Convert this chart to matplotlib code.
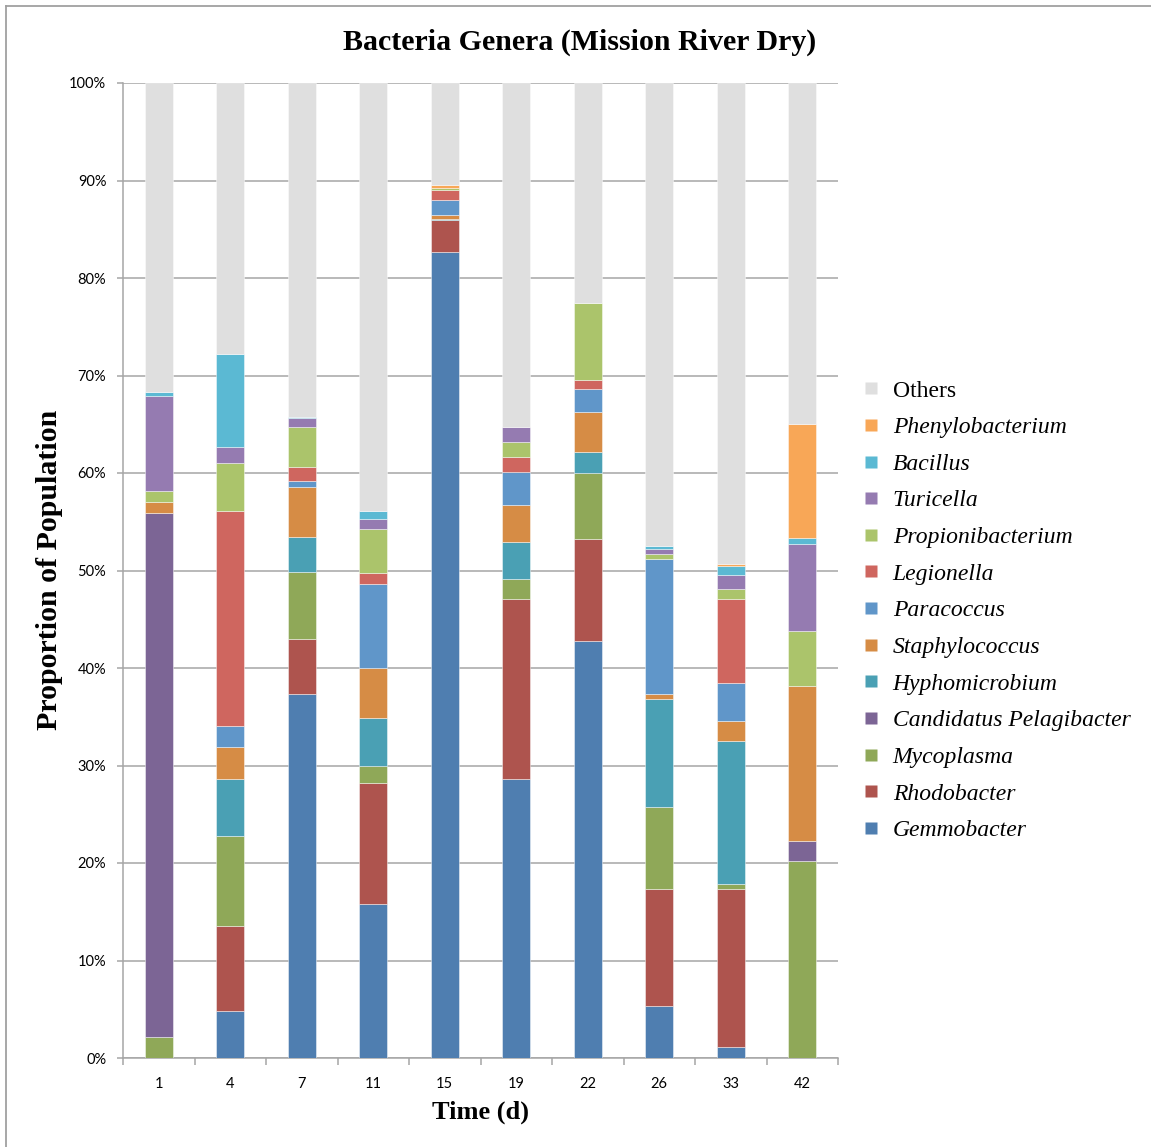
import matplotlib

matplotlib.use("Agg")
import matplotlib.pyplot as plt
import numpy as np
from matplotlib.lines import Line2D
from matplotlib.ticker import FixedLocator, PercentFormatter

DAYS = ["1", "4", "7", "11", "15", "19", "22", "26", "33", "42"]

# percent of population per genus, stacked bottom -> top
GEMMOBACTER = [0, 4.8, 37.3, 15.8, 82.7, 28.6, 42.8, 5.3, 1.1, 0]
RHODOBACTER = [0, 8.7, 5.7, 12.4, 3.2, 18.5, 10.4, 12.0, 16.2, 0]
MYCOPLASMA = [2.2, 9.3, 6.8, 1.7, 0, 2.0, 6.8, 8.4, 0.5, 20.2]
PELAGIBACTER = [53.7, 0, 0, 0, 0, 0, 0, 0, 0, 2.1]
HYPHOMICROBIUM = [0, 5.8, 3.6, 5.0, 0.2, 3.8, 2.2, 11.1, 14.7, 0]
STAPHYLOCOCCUS = [1.1, 3.3, 5.2, 5.1, 0.4, 3.8, 4.1, 0.5, 2.1, 15.9]
PARACOCCUS = [0, 2.2, 0.6, 8.6, 1.5, 3.4, 2.3, 13.9, 3.9, 0]
LEGIONELLA = [0, 22.0, 1.4, 1.1, 1.0, 1.5, 0.9, 0, 8.6, 0]
PROPIONIBACTERIUM = [1.2, 4.9, 4.1, 4.6, 0.2, 1.6, 7.9, 0.5, 1.0, 5.6]
TURICELLA = [9.7, 1.7, 0.9, 1.0, 0, 1.5, 0, 0.5, 1.4, 8.9]
BACILLUS = [0.4, 9.5, 0.1, 0.8, 0, 0, 0, 0.3, 1.0, 0.6]
PHENYLOBACTERIUM = [0, 0, 0, 0, 0.3, 0, 0, 0, 0.2, 11.7]
OTHERS = [31.7, 27.8, 34.3, 43.9, 10.5, 35.3, 22.6, 47.5, 49.3, 35.0]

SERIES = [
    ("Gemmobacter", GEMMOBACTER, "#4f7eb0"),
    ("Rhodobacter", RHODOBACTER, "#ae544e"),
    ("Mycoplasma", MYCOPLASMA, "#8fa858"),
    ("Candidatus Pelagibacter", PELAGIBACTER, "#7c6595"),
    ("Hyphomicrobium", HYPHOMICROBIUM, "#4aa0b4"),
    ("Staphylococcus", STAPHYLOCOCCUS, "#d68c45"),
    ("Paracoccus", PARACOCCUS, "#6096c9"),
    ("Legionella", LEGIONELLA, "#cf665f"),
    ("Propionibacterium", PROPIONIBACTERIUM, "#abc46b"),
    ("Turicella", TURICELLA, "#957bb1"),
    ("Bacillus", BACILLUS, "#5bb9d3"),
    ("Phenylobacterium", PHENYLOBACTERIUM, "#f8a757"),
    ("Others", OTHERS, "#dfdfdf"),
]

GRID = "#a6a6a6"
SERIF = "Liberation Serif"

fig = plt.figure(figsize=(11.51, 11.47), dpi=100, facecolor="white")
ax = fig.add_axes([123 / 1151, 1 - 1058 / 1147, 715 / 1151, 975 / 1147])

x = np.arange(len(DAYS))
bottom = np.zeros(len(DAYS))
for name, vals, color in SERIES:
    vals = np.array(vals, dtype=float)
    ax.bar(x, vals, width=0.39, bottom=bottom, color=color,
           edgecolor=(1, 1, 1, 0.45), linewidth=[0.7 if v > 0 else 0 for v in vals],
           zorder=3)
    bottom += vals

ax.set_xlim(-0.5, len(DAYS) - 0.5)
ax.set_ylim(0, 100)
ax.yaxis.set_major_locator(FixedLocator(np.arange(0, 101, 10)))
ax.yaxis.set_major_formatter(PercentFormatter(decimals=0))
ax.grid(axis="y", color=GRID, lw=1.1, zorder=0)

ax.set_xticks(x)
ax.set_xticklabels(DAYS)
ax.xaxis.set_minor_locator(FixedLocator(np.arange(-0.5, len(DAYS), 1)))
ax.tick_params(axis="x", which="major", length=0, pad=14)
ax.tick_params(axis="x", which="minor", length=5, width=1.1, color=GRID)
ax.tick_params(axis="y", length=4, width=1.1, color=GRID, pad=8)
for lab in ax.get_xticklabels() + ax.get_yticklabels():
    lab.set_fontfamily("Lato")
    lab.set_fontsize(10.5)
for side in ("top", "right"):
    ax.spines[side].set_visible(False)
for side in ("left", "bottom"):
    ax.spines[side].set_color(GRID)
    ax.spines[side].set_linewidth(1.1)

fig.text(580 / 1151, 1 - 42 / 1147, "Bacteria Genera (Mission River Dry)",
         family=SERIF, weight="bold", fontsize=21.5, ha="center", va="center")
fig.text(50 / 1151, 1 - 570 / 1147, "Proportion of Population",
         family=SERIF, weight="bold", fontsize=21.5, rotation=90,
         ha="center", va="center")
fig.text(481 / 1151, 1 - 1112 / 1147, "Time (d)",
         family=SERIF, weight="bold", fontsize=19, ha="center", va="center")

# legend, top entry first
handles = [Line2D([], [], ls="none", marker="s", markersize=8,
                  markerfacecolor=c, markeredgecolor="none")
           for _, _, c in SERIES[::-1]]
labels = [n for n, _, _ in SERIES[::-1]]
leg = fig.legend(handles, labels, loc="upper left",
                 bbox_to_anchor=(862 / 1151, 1 - 380 / 1147),
                 frameon=False, handlelength=0.8,
                 handletextpad=0.5, labelspacing=0.64, borderpad=0,
                 borderaxespad=0, prop={"family": SERIF, "size": 17})
for txt in leg.get_texts():
    if txt.get_text() != "Others":
        txt.set_style("italic")

# outer frame
fig.add_artist(Line2D([5.5 / 1151, 5.5 / 1151], [0, 1 - 6 / 1147],
                      transform=fig.transFigure, color="#a0a0a0", lw=1.3))
fig.add_artist(Line2D([5.5 / 1151, 1], [1 - 6 / 1147, 1 - 6 / 1147],
                      transform=fig.transFigure, color="#a0a0a0", lw=1.3))

fig.savefig("out.png", dpi=100, facecolor="white")
